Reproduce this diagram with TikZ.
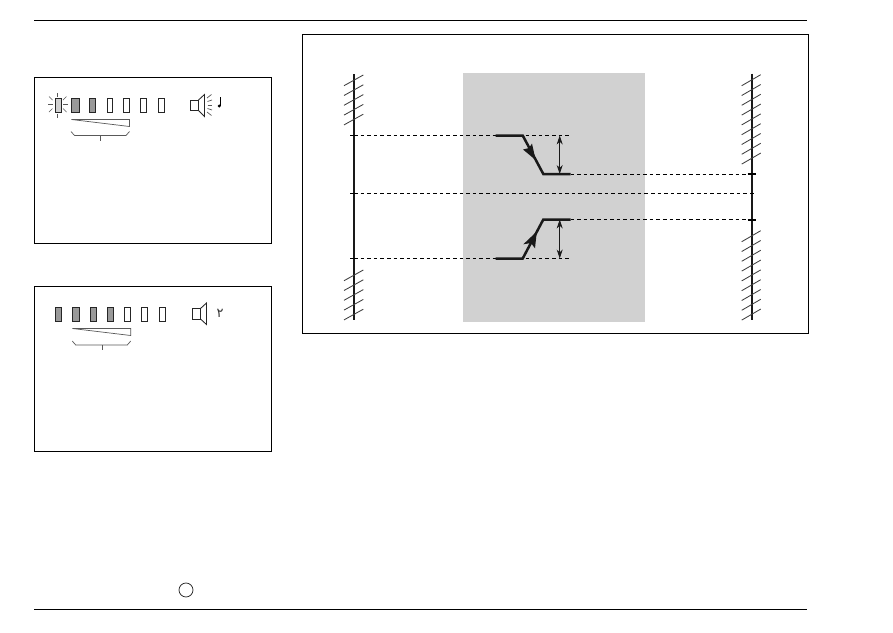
\documentclass[tikz,border=0pt]{standalone}
\usepackage{fontspec}
\newfontfamily\arabicfont[Script=Arabic]{DejaVu Sans}
\TeXXeTstate=1
\usetikzlibrary{arrows.meta}
\tikzset{
  panel/.style={draw=black,line width=.9pt},
  lamp/.style={draw=black!85,line width=.85pt},
  soft/.style={draw=black!65,line width=.7pt},
  wall/.style={black!90,line width=2.2pt},
  hatch/.style={black!75,line width=.85pt},
  guide/.style={black,line width=.75pt,dash pattern=on 3.6pt off 3pt},
  stepline/.style={black!90,line width=2.5pt},
  gap/.style={black!90,line width=.85pt,{Stealth[length=9pt,width=6pt]}-{Stealth[length=9pt,width=6pt]}}
}
\begin{document}
\begin{tikzpicture}[x=1pt,y=-1pt]
\useasboundingbox (0,0) rectangle (893,632);
\fill[white] (0,0) rectangle (893,632);
% page rules and the small circle
\draw[black,line width=.9pt] (34,20.5)--(807,20.5);
\draw[black,line width=1.9pt] (34,609.5)--(807,609.5);
\draw[black!85,line width=.75pt] (186,590) circle (7);
% the three frames
\draw[panel] (34.5,77.5) rectangle (271.5,243.5);
\draw[panel] (34.5,286.5) rectangle (271.5,451.5);
\fill[black!18] (463,73) rectangle (645,321.5);
\draw[panel] (302.5,34.5) rectangle (808,333);
% upper panel, lamps
\fill[black!18] (55,98) rectangle (61,112.5);
\draw[lamp] (55,98) rectangle (61,112.5);
\foreach \x/\w in {71.5/7.5,89/6}
  \fill[black!40] (\x,98) rectangle +(\w,14.5);
\foreach \x/\w in {71.5/7.5,89/6,107/5.5,123/6,140/6.5,158/6}
  \draw[lamp] (\x,98) rectangle +(\w,14.5);
% rays of the blinking lamp
\foreach \a/\b/\c/\d in {57.8/93/57.8/96.5,57.8/114/57.8/117.5,48/104.5/52.5/104.5,63/104.5/67.5/104.5,49/96.5/52.5/100,66.5/96.5/63/100,49/112/52.5/108.5,66.5/112/63/108.5}
  \draw[soft] (\a,\b)--(\c,\d);
% upper panel, wedge and brace
\draw[soft] (71.5,119.5)--(129.5,119.5)--(129.5,126.5)--cycle;
\draw[soft] (71,131.5)--(74.5,135.5)--(126,135.5)--(129.5,131.5);
\draw[soft] (100.7,135.5)--(100.7,140.5);
% upper panel, speaker and note
\draw[lamp] (190.5,100) rectangle (198.5,110.5);
\draw[lamp] (198.5,100)--(204.5,94.5)--(204.5,116.5)--(198.5,110.5);
\foreach \a/\b/\c/\d in {207/98/211.5/94.5,207.5/101.5/212/100,207.5/105/212/105,207.5/108.5/212/110,207/112/211.5/115.5}
  \draw[soft] (\a,\b)--(\c,\d);
\draw[black,line width=.8pt] (220.8,97)--(220.8,105.5);
\fill[black] (219.2,106) circle (1.7);
% lower panel, lamps
\foreach \x/\w in {55/6.5,72/7.5,90/6,107/6}
  \fill[black!40] (\x,307.5) rectangle +(\w,14);
\foreach \x/\w in {55/6.5,72/7.5,90/6,107/6,124/6,141/6.5,159/6}
  \draw[lamp] (\x,307.5) rectangle +(\w,14);
% lower panel, wedge and brace
\draw[soft] (72.5,328.5)--(130.7,328.5)--(130.7,335.5)--cycle;
\draw[soft] (72.3,341)--(75.7,345)--(127.3,345)--(130.7,341);
\draw[soft] (102.3,345)--(102.3,350);
% lower panel, speaker and digit
\draw[lamp] (192.5,308.5) rectangle (200.5,319);
\draw[lamp] (200.5,308.5)--(206.5,303)--(206.5,324.5)--(200.5,319);
\node[inner sep=0pt,text=black!80] (digit) at (220,313) {\fontsize{13}{13}\selectfont\arabicfont\beginR ٢\endR};
% the two walls with their hatching
\draw[wall] (354,74)--(354,319.5);
\draw[wall] (751.7,73.5)--(751.7,320);
\foreach \k in {0,...,4} {
  \draw[hatch] (344,85.7+9.8*\k)--(363.3,75+9.8*\k);
  \draw[hatch] (344,280.7+9.8*\k)--(363.3,270+9.8*\k);
}
\foreach \k in {0,...,8} {
  \draw[hatch] (741.7,85.7+9.8*\k)--(760.7,74.7+9.8*\k);
  \draw[hatch] (741.7,241.7+9.8*\k)--(760.7,230.7+9.8*\k);
}
% reference levels
\coordinate (LA) at (354,135.5); \coordinate (LB) at (354,193.3); \coordinate (LC) at (354,258.5);
\coordinate (RA) at (755.5,174); \coordinate (RB) at (755.5,193.3); \coordinate (RC) at (755.5,219.5);
\coordinate (HA) at (570.5,135.5); \coordinate (HC) at (570.5,258.5);
\coordinate (SA) at (570.5,174); \coordinate (SC) at (570.5,219.5);
\draw[guide] (LA)--(HA); \draw[guide] (LC)--(HC); \draw[guide] (LB)--(RB);
\draw[guide] (SA)--(RA); \draw[guide] (SC)--(RC);
% ticks on the walls
\draw[black,line width=.9pt] (350,135.5)--(358,135.5);
\draw[black,line width=.9pt] (350,193.3)--(354,193.3);
\draw[black,line width=.9pt] (350,258.5)--(358,258.5);
\draw[black,line width=2pt] (747.5,174)--(756,174);
\draw[black,line width=2pt] (747.5,220)--(756,220);
% the two steps
\coordinate (A) at (495.5,135.5); \coordinate (B) at (522.7,135.5); \coordinate (C) at (543.3,174);
\coordinate (D) at (495.5,258.5); \coordinate (E) at (522.7,258.5); \coordinate (F) at (543.3,219.5);
\draw[stepline] (A)--(B)--(C)--(SA);
\draw[stepline] (D)--(E)--(F)--(SC);
\fill[black!90] (535.6,160)--(523,149.5)--(529,148)--(532,143.5)--cycle;
\fill[black!90] (536.8,231.5)--(523.3,244.3)--(530.9,243)--(535,248.3)--cycle;
\draw[gap] (559.7,135.5)--(559.7,174);
\draw[gap] (559.7,219.5)--(559.7,258.5);
\end{tikzpicture}
\end{document}
